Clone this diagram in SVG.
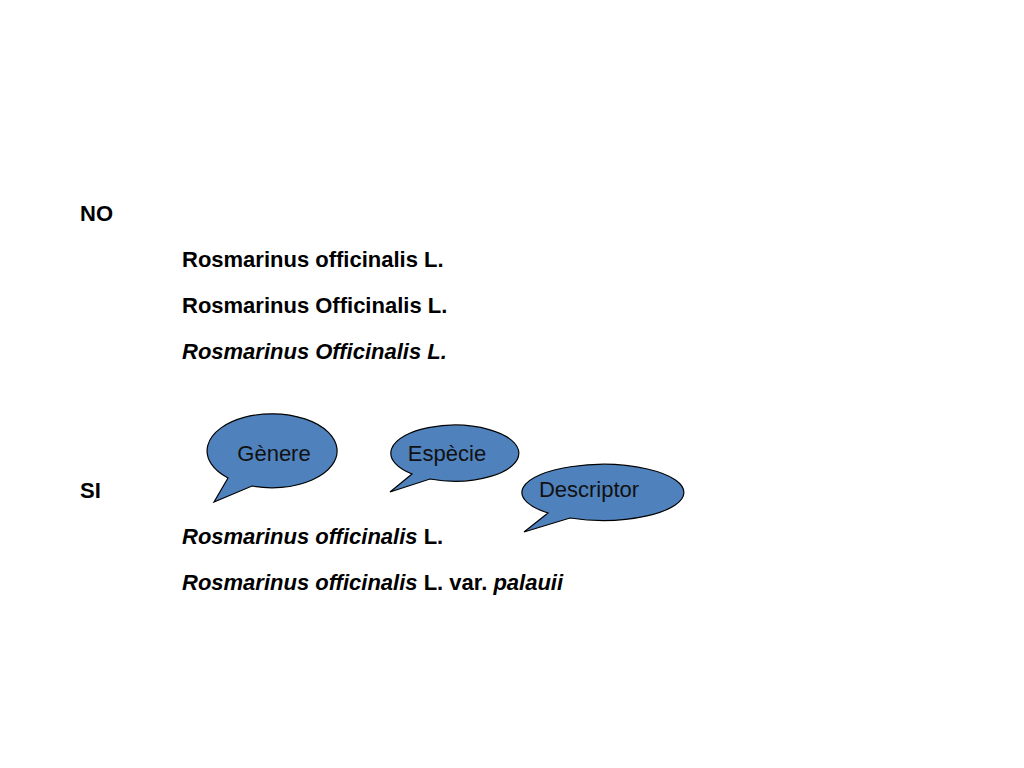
<svg xmlns="http://www.w3.org/2000/svg" width="1024" height="768" viewBox="0 0 1024 768">
<style>
.t{font-family:"Liberation Sans",Arial,sans-serif;font-size:22px;font-weight:bold;fill:#000}
.i{font-style:italic}
.n{font-weight:normal;font-style:normal}
.c{fill:#4f81bd;stroke:#000;stroke-width:1.2}
.cl{font-family:"Liberation Sans",Arial,sans-serif;font-size:22px;fill:#111;text-anchor:middle}
</style>
<rect width="1024" height="768" fill="#fff"/>
<text class="t" x="80" y="221">NO</text>
<text class="t" x="182" y="267">Rosmarinus officinalis L.</text>
<text class="t" x="182" y="313">Rosmarinus Officinalis L.</text>
<text class="t i" x="182" y="359">Rosmarinus Officinalis L.</text>
<text class="t" x="80" y="498">SI</text>
<text class="t" x="182" y="544"><tspan class="i">Rosmarinus officinalis</tspan> L.</text>
<text class="t" x="182" y="590"><tspan class="i">Rosmarinus officinalis</tspan> L. var. <tspan class="i">palauii</tspan></text>
<g id="genere"><path class="c" d="M228,478 L214,502 L252,486 A65 37 0 1 0 228,478 Z"/><text class="cl" x="274" y="461">Gènere</text></g>
<g id="especie"><path class="c" d="M412,474 L390,492 L430,479 A64 28 0 1 0 412,474 Z"/><text class="cl" x="447" y="461">Espècie</text></g>
<g id="descriptor"><path class="c" d="M548,513 L524,532 L570,518 A81 28 0 1 0 548,513 Z"/><text class="cl" x="589" y="497">Descriptor</text></g>
<g id="connectors"/>
</svg>
